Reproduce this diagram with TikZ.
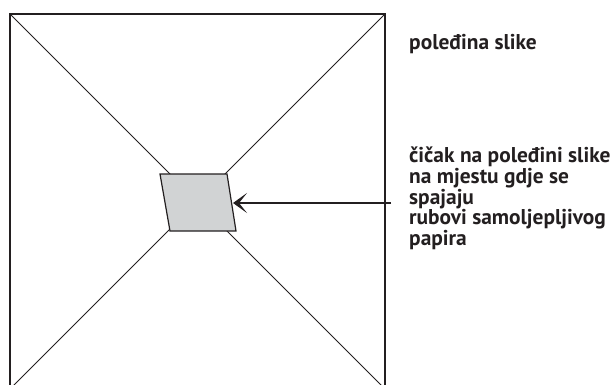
\documentclass[tikz,border=0pt]{standalone}
\usepackage{fontspec}
\setmainfont{PT Sans}
\usetikzlibrary{arrows.meta}
\definecolor{patch}{RGB}{209,211,212}
\definecolor{ink}{RGB}{35,31,32}
\tikzset{
  frame/.style={draw=ink,line width=1.3pt},
  diag/.style={draw=ink,line width=1pt},
  patchbox/.style={draw=ink,fill=patch,line width=1.2pt,line join=miter},
  label/.style={font=\fontsize{21.4}{18.3}\selectfont\bfseries,text=ink,align=left,inner sep=0pt},
  pointer/.style={draw=ink,line width=1.5pt,-{Stealth[length=14pt,width=20pt,inset=8pt]}}
}
\begin{document}
\begin{tikzpicture}[x=1pt,y=-1pt]
\useasboundingbox (0,0) rectangle (613,385);
\begin{scope}
\clip (0,0) rectangle (613,385);
% frame (square, cut off at the bottom)
\draw[frame] (10,400) -- (10,14) -- (385,14) -- (385,400);
% diagonals
\draw[diag] (10,14) -- (385,389);
\draw[diag] (385,14) -- (10,389);
\end{scope}
% velcro patch
\coordinate (p1) at (160,174);
\coordinate (p2) at (227,174);
\coordinate (p3) at (236,231);
\coordinate (p4) at (170,231);
\draw[patchbox] (p1) -- (p2) -- (p3) -- (p4) -- cycle;
% labels
\node[label,anchor=base west] (back) at (409,49.8) {poleđina slike};
\node[label,anchor=base west] (desc) at (409,245.5) {čičak na poleđini slike\\na mjestu gdje se\\spajaju\\rubovi samoljepljivog\\papira};
\coordinate (astart) at (391,203);
\coordinate (tip) at (233,203);
\draw[pointer] (astart) -- (tip);
\end{tikzpicture}
\end{document}
